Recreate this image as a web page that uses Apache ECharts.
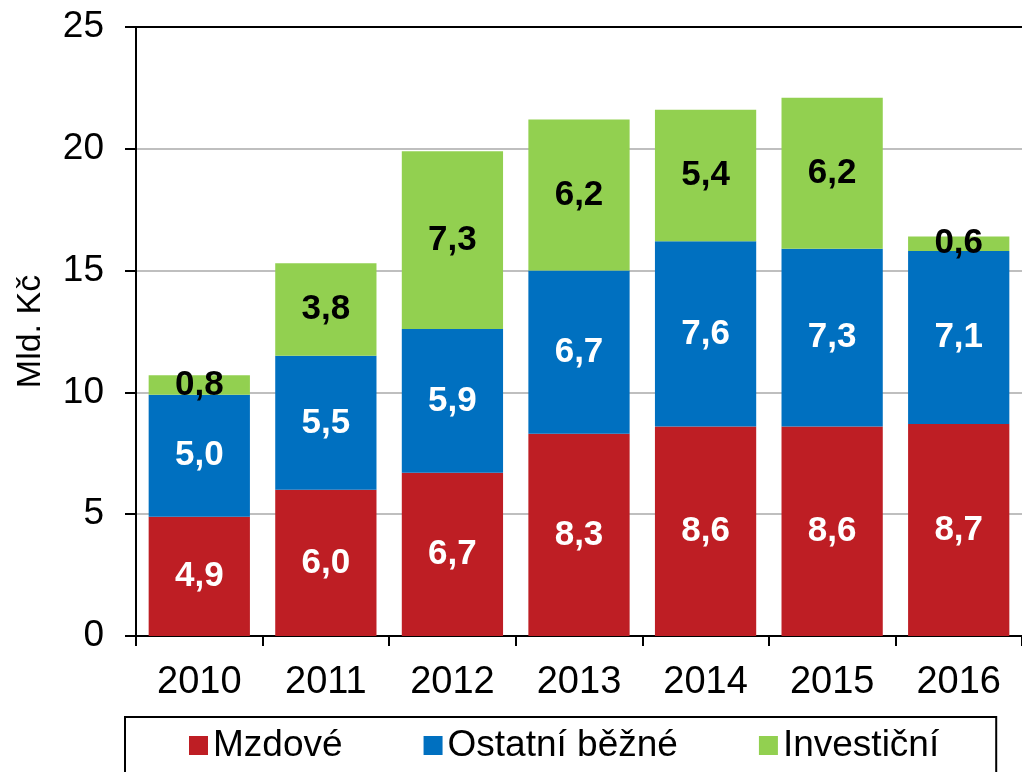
<!DOCTYPE html>
<html>
<head>
<meta charset="utf-8">
<script src="https://cdn.jsdelivr.net/npm/echarts@6/dist/echarts.min.js"></script>
<style>
  html, body { margin: 0; padding: 0; background: #fff; }
  #chart { width: 1022px; height: 772px; }
</style>
</head>
<body>
<div id="chart"></div>
<script>
// roky (osa X)
var years = ["2010", "2011", "2012", "2013", "2014", "2015", "2016"];
// výdaje v mld. Kč
var mzdove = [4.9, 6.0, 6.7, 8.3, 8.6, 8.6, 8.7];
var ostatniBezne = [5.0, 5.5, 5.9, 6.7, 7.6, 7.3, 7.1];
var investicni = [0.8, 3.8, 7.3, 6.2, 5.4, 6.2, 0.6];
var seriesNames = ["Mzdové", "Ostatní běžné", "Investiční"];

var font = "'Liberation Sans', Arial, sans-serif";
var myChart = echarts.init(document.getElementById("chart"));

function fmt(v) {
  return v.toFixed(1).replace(".", ",");
}

function makeSeries(name, data, color, labelColor) {
  return {
    name: name,
    type: "bar",
    stack: "total",
    barCategoryGap: "20%",
    data: data,
    itemStyle: { color: color },
    label: {
      show: true,
      position: "inside",
      color: labelColor,
      fontFamily: font,
      fontSize: 35,
      fontWeight: "bold",
      formatter: function (p) { return fmt(p.value); }
    }
  };
}

var option = {
  animation: false,
  textStyle: { fontFamily: font },
  grid: { left: 136, top: 27, right: -5, bottom: 136 },
  legend: {
    left: 125,
    top: 717,
    data: seriesNames,
    icon: "rect",
    itemWidth: 19,
    itemHeight: 19,
    itemGap: 81,
    borderColor: "#000",
    borderWidth: 2,
    padding: [10, 57, 40, 64],
    textStyle: { fontFamily: font, fontSize: 37, color: "#000" }
  },
  xAxis: {
    type: "category",
    data: years,
    axisLine: { lineStyle: { color: "#000", width: 2 } },
    axisTick: { show: true, length: 10, lineStyle: { color: "#000", width: 2 } },
    axisLabel: { color: "#000", fontSize: 38, fontFamily: font, margin: 28 }
  },
  yAxis: {
    type: "value",
    min: 0,
    max: 25,
    interval: 5,
    name: "Mld. Kč",
    nameLocation: "middle",
    nameGap: 88,
    nameTextStyle: { color: "#000", fontSize: 34, fontFamily: font },
    axisLine: { show: true, lineStyle: { color: "#000", width: 2 } },
    axisTick: { show: true, length: 11, lineStyle: { color: "#000", width: 2 } },
    axisLabel: { color: "#000", fontSize: 37, fontFamily: font, margin: 32 },
    splitLine: {
      show: true,
      lineStyle: {
        color: ["#bfbfbf", "#bfbfbf", "#bfbfbf", "#bfbfbf", "#bfbfbf", "#000"],
        width: 2
      }
    }
  },
  series: [
    makeSeries(seriesNames[0], mzdove, "#be1e24", "#fff"),
    makeSeries(seriesNames[1], ostatniBezne, "#0070c0", "#fff"),
    makeSeries(seriesNames[2], investicni, "#92d050", "#000")
  ]
};

myChart.setOption(option);
</script>
</body>
</html>
